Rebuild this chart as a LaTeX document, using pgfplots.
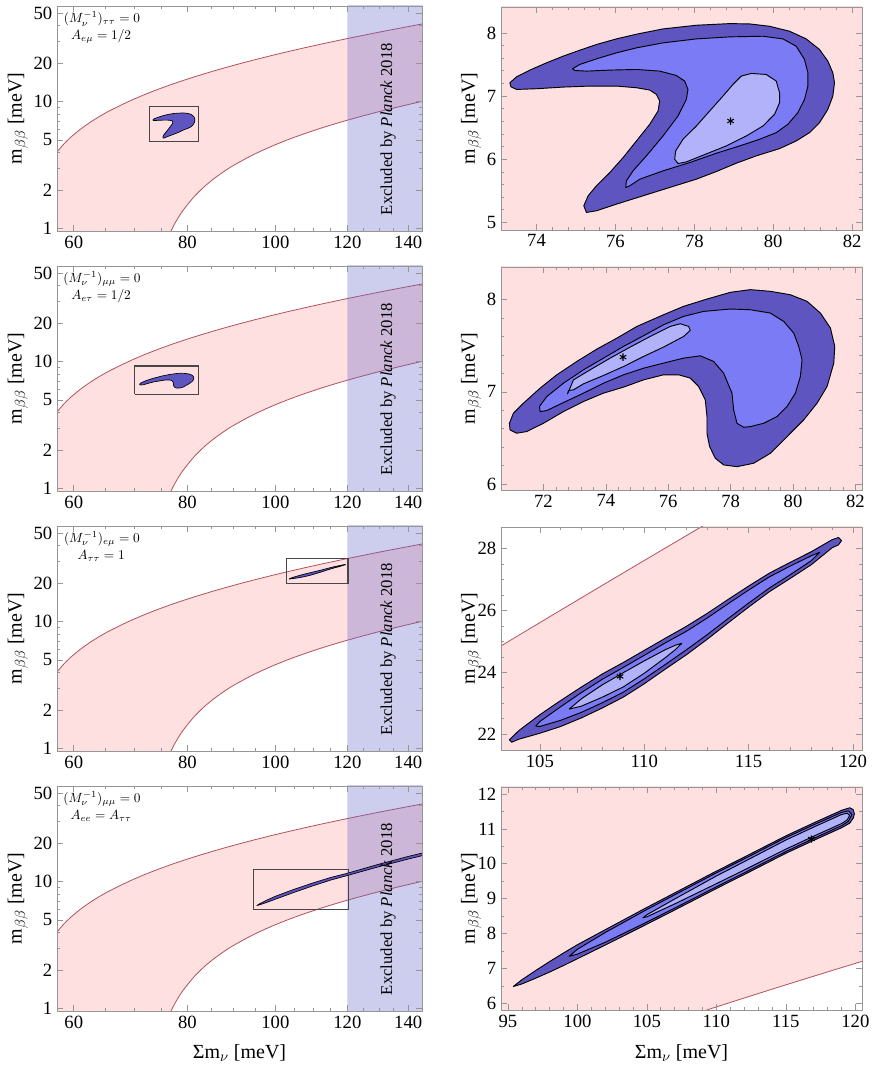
\documentclass[border=0pt]{standalone}
\usepackage{fontspec}
\setmainfont{Liberation Serif}
\usepackage{pgfplots}
\usepackage{pgfplotstable}
\pgfplotsset{compat=1.18}
\pgfkeys{/pgf/number format/assume math mode=true}

\definecolor{pinkband}{RGB}{255,224,224}
\definecolor{curvec}{RGB}{178,82,92}
\definecolor{planck}{RGB}{102,102,204}
\definecolor{cdark}{RGB}{94,85,192}
\definecolor{cmed}{RGB}{123,123,246}
\definecolor{clight}{RGB}{178,178,250}
\definecolor{framec}{RGB}{150,150,150}
\definecolor{rectc}{RGB}{70,70,70}

\pgfplotstableread{
x y
57.49 4.000
57.59 4.065
57.80 4.196
58.56 4.666
59.14 5.012
59.76 5.368
61.09 6.107
62.54 6.878
64.09 7.679
65.74 8.504
69.29 10.216
73.09 11.991
77.10 13.811
81.29 15.663
85.61 17.538
90.05 19.432
94.59 21.340
99.23 23.259
103.96 25.187
108.76 27.121
113.63 29.062
118.57 31.009
123.57 32.960
128.62 34.914
133.73 36.872
138.88 38.833
144.08 40.797
146.70 41.779
}\uppercurve

\pgfplotstableread{
x y
75.07 0.626
76.08 0.821
77.10 1.015
78.135 1.204
79.18 1.392
81.29 1.760
83.43 2.119
85.61 2.470
87.81 2.816
90.05 3.157
94.59 3.821
99.23 4.472
103.96 5.110
108.76 5.739
113.63 6.359
118.57 6.971
123.57 7.577
128.62 8.180
133.73 8.776
138.88 9.370
144.08 9.960
146.70 10.254
}\lowercurve

\pgfplotstableread{
x y
57.49 4.000
57.59 4.065
57.80 4.196
58.56 4.666
59.14 5.012
59.76 5.368
61.09 6.107
62.54 6.878
64.09 7.679
65.74 8.504
69.29 10.216
73.09 11.991
77.10 13.811
81.29 15.663
85.61 17.538
90.05 19.432
94.59 21.340
99.23 23.259
103.96 25.187
108.76 27.121
113.63 29.062
118.57 31.009
123.57 32.960
128.62 34.914
133.73 36.872
138.88 38.833
144.08 40.797
146.70 41.779
146.70 10.254
144.08 9.960
138.88 9.370
133.73 8.776
128.62 8.180
123.57 7.577
118.57 6.971
113.63 6.359
108.76 5.739
103.96 5.110
99.23 4.472
94.59 3.821
90.05 3.157
87.81 2.816
85.61 2.470
83.43 2.119
81.29 1.760
79.18 1.392
78.135 1.204
77.10 1.015
76.08 0.821
75.07 0.626
57.00 0.626
57.00 4.000
57.49 4.000
}\bandpoly

\pgfplotstableread{
x y
73.325 7.211
73.494 7.305
73.831 7.411
74.253 7.526
74.675 7.632
75.097 7.726
75.519 7.816
76.025 7.905
76.532 7.979
77.207 8.063
78.051 8.121
78.895 8.147
79.401 8.142
79.907 8.105
80.414 8.026
80.835 7.905
81.173 7.737
81.384 7.553
81.511 7.368
81.553 7.211
81.511 7.000
81.384 6.789
81.173 6.579
80.920 6.421
80.582 6.289
80.160 6.168
79.570 6.053
79.063 5.937
78.557 5.805
78.051 5.684
77.376 5.553
76.700 5.421
76.025 5.289
75.519 5.184
75.266 5.158
75.198 5.263
75.308 5.421
75.519 5.579
75.857 5.789
76.194 6.026
76.532 6.289
76.869 6.553
77.080 6.763
77.122 6.921
77.038 7.026
76.869 7.095
76.532 7.132
76.025 7.158
75.350 7.158
74.675 7.142
74.000 7.116
73.494 7.105
73.350 7.147
73.325 7.211
}\rAo

\pgfplotstableread{
x y
74.911 7.432
75.097 7.500
75.519 7.589
76.025 7.684
76.532 7.763
77.207 7.842
78.051 7.905
78.895 7.937
79.738 7.947
80.245 7.905
80.582 7.789
80.793 7.579
80.878 7.368
80.878 7.158
80.793 6.947
80.624 6.737
80.371 6.553
80.076 6.421
79.654 6.316
79.148 6.211
78.557 6.095
77.882 5.947
77.207 5.816
76.616 5.684
76.363 5.579
76.262 5.553
76.278 5.658
76.447 5.816
76.785 6.053
77.207 6.368
77.586 6.684
77.797 6.947
77.840 7.105
77.755 7.237
77.544 7.326
77.122 7.395
76.532 7.421
75.857 7.411
75.266 7.395
74.970 7.405
74.911 7.432
}\rAm

\pgfplotstableread{
x y
77.502 6.000
77.527 6.132
77.713 6.316
78.051 6.526
78.388 6.763
78.726 7.000
78.979 7.184
79.190 7.316
79.443 7.358
79.823 7.342
80.076 7.237
80.160 7.053
80.160 6.895
80.034 6.711
79.738 6.526
79.316 6.368
78.810 6.211
78.219 6.063
77.797 5.958
77.586 5.932
77.502 6.000
}\rAl

\pgfplotstableread{
x y
70.909 6.659
71.037 6.768
71.358 6.877
71.893 7.040
72.428 7.185
73.070 7.330
73.711 7.464
74.353 7.583
74.995 7.710
75.850 7.837
76.492 7.928
77.241 8.007
77.989 8.080
78.631 8.109
79.273 8.091
79.914 8.054
80.449 7.982
80.877 7.855
81.198 7.692
81.337 7.493
81.305 7.312
81.091 7.058
80.770 6.877
80.342 6.696
79.807 6.514
79.273 6.333
78.738 6.225
78.203 6.188
77.775 6.207
77.508 6.279
77.326 6.406
77.241 6.551
77.241 6.732
77.187 6.913
76.973 7.058
76.706 7.149
76.332 7.185
75.850 7.185
75.209 7.130
74.567 7.051
73.925 6.986
73.283 6.895
72.642 6.786
72.000 6.659
71.465 6.569
71.144 6.551
70.930 6.587
70.909 6.659
}\rBo

\pgfplotstableread{
x y
71.872 6.841
72.107 6.949
72.642 7.094
73.283 7.239
73.925 7.366
74.567 7.493
75.209 7.609
75.850 7.728
76.492 7.819
77.134 7.873
77.989 7.899
78.631 7.891
79.273 7.855
79.701 7.764
80.021 7.638
80.182 7.493
80.289 7.348
80.235 7.167
80.075 6.986
79.807 6.841
79.487 6.732
79.059 6.659
78.631 6.623
78.417 6.616
78.203 6.659
78.096 6.804
78.043 6.986
77.775 7.203
77.455 7.330
77.027 7.391
76.492 7.366
75.850 7.312
75.209 7.257
74.567 7.185
73.925 7.094
73.283 6.986
72.642 6.884
72.107 6.797
71.893 6.786
71.872 6.841
}\rBm

\pgfplotstableread{
x y
72.770 6.975
72.963 7.130
73.497 7.239
74.139 7.366
74.781 7.486
75.422 7.601
76.064 7.710
76.385 7.739
76.652 7.710
76.706 7.667
76.492 7.601
75.850 7.486
75.209 7.384
74.567 7.275
73.925 7.178
73.283 7.087
72.963 7.022
72.802 7.014
72.770 6.975
}\rBl

\pgfplotstableread{
x y
103.54 21.82
104 22.12
105 22.63
106 23.09
107 23.53
108 23.95
109 24.32
110 24.71
111 25.10
112 25.48
113 25.90
114 26.35
115 26.79
116 27.21
117 27.56
118 27.90
119 28.29
119.3 28.36
119.45 28.26
119.3 28.12
119 28.03
118 27.48
117 27.04
116 26.61
115 26.11
114 25.59
113 25.06
112 24.56
111 24.10
110 23.63
109 23.20
108 22.85
107 22.53
106 22.25
105 22.03
104 21.84
103.65 21.74
103.54 21.82
}\rCo

\pgfplotstableread{
x y
104.8 22.26
105 22.41
106 22.89
107 23.35
108 23.78
109 24.16
110 24.55
111 24.95
112 25.32
113 25.75
114 26.21
115 26.66
116 27.09
117 27.44
118 27.77
118.4 27.88
118 27.61
117 27.16
116 26.73
115 26.24
114 25.73
113 25.21
112 24.72
111 24.25
110 23.79
109 23.36
108 23.02
107 22.71
106 22.45
105 22.25
104.8 22.26
}\rCm

\pgfplotstableread{
x y
106.4 22.81
107 23.15
108 23.60
109 23.99
110 24.37
111 24.73
111.5 24.88
111.8 24.94
111.5 24.74
111 24.47
110 23.97
109 23.53
108 23.20
107 22.91
106.4 22.81
}\rCl

\pgfplotstableread{
x y
95.37 6.48
96 6.676
97 6.942
98 7.198
99 7.444
100 7.68
102 8.11
105 8.75
107 9.165
110 9.79
112 10.19
115 10.80
117 11.17
119 11.53
119.6 11.605
119.85 11.55
119.93 11.43
119.85 11.31
119.6 11.165
119 11.03
117 10.67
115 10.30
112 9.69
110 9.29
107 8.675
105 8.27
102 7.67
100 7.28
99 7.084
98 6.898
97 6.722
96 6.556
95.37 6.48
}\rDo

\pgfplotstableread{
x y
99.4 7.35
100 7.55
102 8.03
105 8.69
107 9.11
110 9.74
112 10.14
115 10.75
117 11.115
119 11.47
119.5 11.517
119.75 11.41
119.5 11.217
119 11.09
117 10.725
115 10.35
112 9.74
110 9.34
107 8.73
105 8.33
102 7.75
100 7.41
99.4 7.35
}\rDm

\pgfplotstableread{
x y
104.7 8.45
105 8.54
107 8.99
110 9.65
112 10.06
115 10.68
117 11.05
119 11.41
119.4 11.45
119.6 11.385
119.4 11.25
119 11.15
117 10.79
115 10.42
112 9.82
110 9.43
107 8.85
105 8.48
104.7 8.45
}\rDl

\pgfplotstableread{
x y
95.37 6.48
96 6.676
97 6.942
98 7.198
100 7.68
105 8.75
110 9.79
115 10.80
120 11.67
130 13.76
140 15.85
147 17.25
147 16.45
140 15.11
130 13.16
120 11.20
115 10.30
110 9.29
105 8.27
100 7.28
98 6.898
97 6.722
96 6.556
95.37 6.48
}\lDo

\pgfplotsset{
  commonax/.style={
    scale only axis,
    axis on top,
    axis line style={framec, line width=0.6pt},
    tick style={framec, line width=0.5pt},
    tick align=inside,
    xtick pos=both, ytick pos=both,
    xticklabel pos=lower, yticklabel pos=left,
    major tick length=4.5pt, minor tick length=2.5pt,
    tick label style={font=\fontsize{14}{16}\selectfont, black},
    label style={font=\fontsize{15}{17}\selectfont},
  },
  leftax/.style={
    commonax,
    width=273.75pt, height=168.75pt,
    xmin=57.5, xmax=145, ymin=0.952, ymax=57.1,
    xtick={60,80,100,120,140}, xticklabels={60,80,100,120,140},
    ytick={1,2,5,10,20,50}, yticklabels={1,2,5,10,20,50},
    minor xtick={65,70,75,85,90,95,105,110,115,125,130,135},
    minor ytick={3,4,6,7,8,9,30,40},
    ylabel={m$_{\beta\beta}$ [meV]},
    ylabel style={at={(axis description cs:-0.107,0.5)}, anchor=center},
    xlabel style={at={(axis description cs:0.5,-0.187)}, anchor=center},
  },
  rightax/.style={
    commonax,
    width=270.75pt, height=167.25pt,
    ylabel={m$_{\beta\beta}$ [meV]},
    ylabel style={at={(axis description cs:-0.083,0.5)}, anchor=center},
    xlabel style={at={(axis description cs:0.5,-0.193)}, anchor=center},
  },
}
\tikzset{
  pinkfill/.style={draw=none, fill=pinkband},
  bcurve/.style={curvec, line width=0.6pt, smooth},
  cont/.style={draw=black, line width=0.7pt, line join=round},
  smallcont/.style={draw=black, line width=0.5pt, line join=round, fill=cdark},
  annot/.style={font=\fontsize{10}{12}\selectfont, inner sep=0.5pt},
}

\newcommand{\leftlayers}{%
  \addplot[pinkfill] table {\bandpoly};
  \addplot[bcurve] table {\uppercurve};
  \addplot[bcurve] table {\lowercurve};
  \addplot[draw=none, fill=planck, fill opacity=0.33] coordinates {(120,0.5) (160,0.5) (160,100) (120,100) (120,0.5)};
}
\newcommand{\planckNode}{%
  \node[rotate=90, font=\fontsize{12.5}{14}\selectfont] at (rel axis cs:0.907,0.453) {Excluded by \textit{Planck} 2018};
}
\newcommand{\annotation}[2]{%
  \node[annot] at (rel axis cs:0.123,0.942) {#1};
  \node[annot] at (rel axis cs:0.121,0.866) {#2};
}
\newcommand{\starplot}[1]{%
  \addplot[only marks, mark=asterisk, mark size=2.8pt, black, mark options={line width=0.8pt}] coordinates {#1};
}

\begin{document}
\begin{tikzpicture}[x=1pt,y=1pt]
\useasboundingbox (0,0) rectangle (654,804);

% ================= Row 1 =================
\begin{loglogaxis}[leftax, at={(42.75pt,799.5pt)}, anchor=north west]
  \leftlayers
  \addplot[rectc, line width=0.8pt] coordinates {(72.7,4.84) (82.3,4.84) (82.3,9.15) (72.7,9.15) (72.7,4.84)};
  \addplot[smallcont] table {\rAo};
  \planckNode
  \annotation{$(M_\nu^{-1})_{\tau\tau} = 0$}{$A_{e\mu} = 1/2$}
\end{loglogaxis}

\begin{axis}[rightax, at={(375.75pt,798.75pt)}, anchor=north west,
  xmin=73.1, xmax=82.25, ymin=4.88, ymax=8.41,
  xtick={74,76,78,80,82}, ytick={5,6,7,8}, minor x tick num=4, minor y tick num=4]
  \addplot[pinkfill] table {\bandpoly};
  \addplot[cont, fill=cdark] table {\rAo};
  \addplot[cont, fill=cmed] table {\rAm};
  \addplot[cont, fill=clight] table {\rAl};
  \starplot{(78.92,6.605)}
\end{axis}

% ================= Row 2 =================
\begin{loglogaxis}[leftax, at={(42.75pt,604.5pt)}, anchor=north west]
  \leftlayers
  \addplot[rectc, line width=0.8pt] coordinates {(70.0,5.53) (82.3,5.53) (82.3,9.26) (70.0,9.26) (70.0,5.53)};
  \addplot[smallcont] table {\rBo};
  \planckNode
  \annotation{$(M_\nu^{-1})_{\mu\mu} = 0$}{$A_{e\tau} = 1/2$}
\end{loglogaxis}

\begin{axis}[rightax, at={(375.75pt,603.75pt)}, anchor=north west,
  xmin=70.64, xmax=82.21, ymin=5.935, ymax=8.355,
  xtick={72,74,76,78,80,82}, ytick={6,7,8}, minor x tick num=4, minor y tick num=4]
  \addplot[pinkfill] table {\bandpoly};
  \addplot[cont, fill=cdark] table {\rBo};
  \addplot[cont, fill=cmed] table {\rBm};
  \addplot[cont, fill=clight] table {\rBl};
  \starplot{(74.55,7.377)}
\end{axis}

% ================= Row 3 =================
\begin{loglogaxis}[leftax, at={(42.75pt,409.5pt)}, anchor=north west]
  \leftlayers
  \addplot[rectc, line width=0.8pt] coordinates {(102.8,20.1) (120.2,20.1) (120.2,31.7) (102.8,31.7) (102.8,20.1)};
  \addplot[smallcont] table {\rCo};
  \planckNode
  \annotation{$(M_\nu^{-1})_{e\mu} = 0$}{$A_{\tau\tau} = 1$}
\end{loglogaxis}

\begin{axis}[rightax, at={(375.75pt,408.75pt)}, anchor=north west,
  xmin=103.14, xmax=120.43, ymin=21.49, ymax=28.70,
  xtick={105,110,115,120}, ytick={22,24,26,28}, minor x tick num=4, minor y tick num=3]
  \addplot[pinkfill] table {\bandpoly};
  \addplot[bcurve] table {\uppercurve};
  \addplot[cont, fill=cdark] table {\rCo};
  \addplot[cont, fill=cmed] table {\rCm};
  \addplot[cont, fill=clight] table {\rCl};
  \starplot{(108.84,23.87)}
\end{axis}

% ================= Row 4 =================
\begin{loglogaxis}[leftax, at={(42.75pt,214.5pt)}, anchor=north west, xlabel={Σm$_\nu$ [meV]}]
  \leftlayers
  \addplot[rectc, line width=0.8pt] coordinates {(94.5,6.06) (120.4,6.06) (120.4,12.54) (94.5,12.54) (94.5,6.06)};
  \addplot[smallcont] table {\lDo};
  \planckNode
  \annotation{$(M_\nu^{-1})_{\mu\mu} = 0$}{$A_{ee} = A_{\tau\tau}$}
\end{loglogaxis}

\begin{axis}[rightax, at={(375.75pt,213.75pt)}, anchor=north west, xlabel={Σm$_\nu$ [meV]},
  xmin=94.5, xmax=120.48, ymin=5.81, ymax=12.2,
  xtick={95,100,105,110,115,120}, ytick={6,7,8,9,10,11,12}, minor x tick num=4, minor y tick num=1]
  \addplot[pinkfill] table {\bandpoly};
  \addplot[bcurve] table {\lowercurve};
  \addplot[cont, fill=cdark] table {\rDo};
  \addplot[cont, fill=cmed] table {\rDm};
  \addplot[cont, fill=clight] table {\rDl};
  \starplot{(116.83,10.71)}
\end{axis}

\end{tikzpicture}
\end{document}
